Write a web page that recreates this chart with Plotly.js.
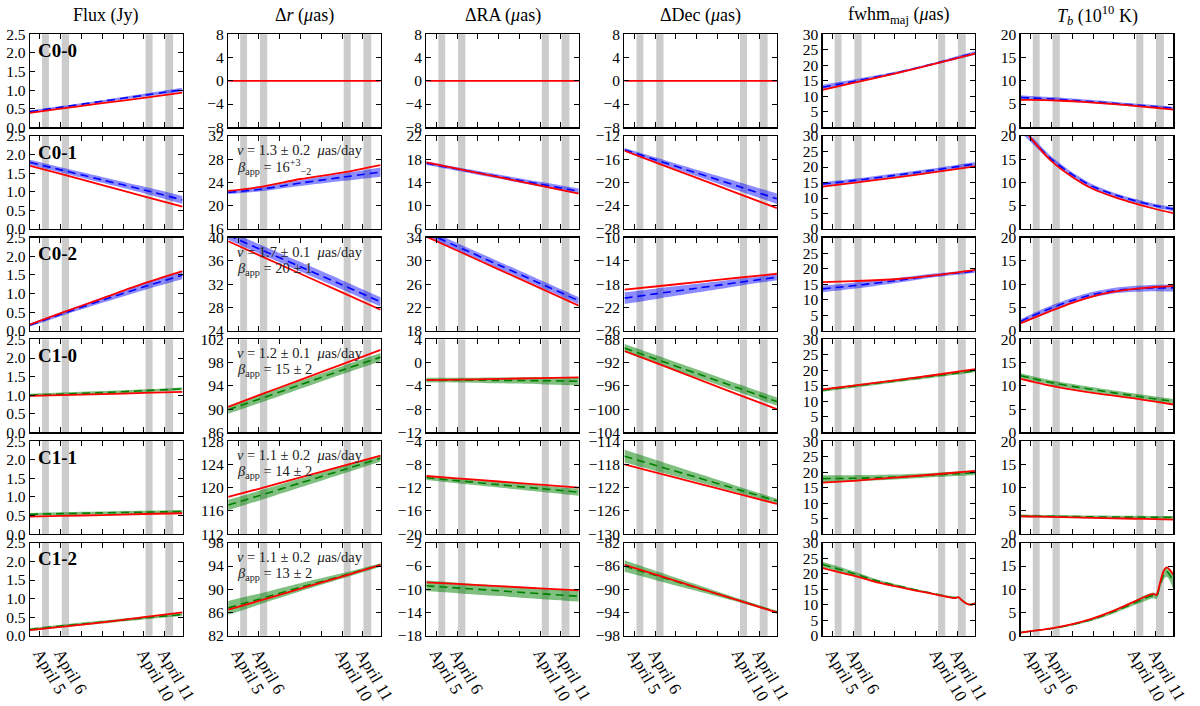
<!DOCTYPE html>
<html>
<head>
<meta charset="utf-8">
<script src="https://cdn.plot.ly/plotly-3.0.1.min.js"></script>
<style>
  body { margin: 0; background: #fff; }
  #chartBox { width: 1200px; height: 706px; }
</style>
</head>
<body>
<div id="chartBox"></div>
<script>
// time grids (day of April 2017)
const days = [4.52, 6, 8, 10, 11.86];
const daysTb = [4.52, 5, 6, 7, 8, 9, 10, 11, 11.86];
const daysFine = [4.52, 5, 6, 7, 8, 9, 10, 10.5, 10.9, 11.05, 11.2, 11.4, 11.55, 11.7, 11.86];

const components = ['C0-0', 'C0-1', 'C0-2', 'C1-0', 'C1-1', 'C1-2'];
const columnTitles = [
    'Flux (Jy)',
    'Δ<i>r</i> (<i>μ</i>as)',
    'ΔRA (<i>μ</i>as)',
    'ΔDec (<i>μ</i>as)',
    'fwhm<sub>maj</sub> (<i>μ</i>as)',
    '<i>T<sub>b</sub></i> (10<sup>10</sup> K)'
];
const obsBands = [[5.1, 5.43], [6.05, 6.4], [10.08, 10.42], [11.03, 11.41]];
const dayTicks = [5, 6, 10, 11];
const dayLabels = ['April 5', 'April 6', 'April 10', 'April 11'];

// speed / apparent speed text (rows C0-1 .. C1-2)
const speedText = [null, '1.3 ± 0.2', '1.7 ± 0.1', '1.2 ± 0.1', '1.1 ± 0.2', '1.1 ± 0.2'];
const betaText = [null, '16<sup>+3</sup><sub>−2</sub>', '20 ± 1', '15 ± 2', '14 ± 2', '13 ± 2'];

// Flux (Jy)
const fluxTruth = [
    [0.39, 0.50, 0.65, 0.79, 0.93],
    [1.70, 1.48, 1.18, 0.88, 0.60],
    [0.17, 0.47, 0.87, 1.27, 1.60],
    [0.98, 1.00, 1.03, 1.06, 1.09],
    [0.47, 0.49, 0.51, 0.54, 0.56],
    [0.15, 0.24, 0.36, 0.50, 0.63]
];
const fluxMean = [
    [0.42, 0.54, 0.70, 0.86, 1.01],
    [1.79, 1.59, 1.32, 1.05, 0.78],
    [0.15, 0.44, 0.82, 1.18, 1.49],
    [1.00, 1.03, 1.07, 1.12, 1.17],
    [0.53, 0.55, 0.57, 0.59, 0.61],
    [0.17, 0.26, 0.37, 0.48, 0.57]
];
const fluxSigma = [
    [0.03, 0.03, 0.03, 0.04, 0.05],
    [0.07, 0.07, 0.08, 0.09, 0.11],
    [0.04, 0.05, 0.07, 0.09, 0.11],
    [0.04, 0.04, 0.04, 0.04, 0.04],
    [0.04, 0.04, 0.04, 0.04, 0.04],
    [0.04, 0.04, 0.04, 0.04, 0.04]
];

// Delta r (uas)
const drTruth = [
    [0, 0, 0, 0, 0],
    [22.55, 23.2, 24.6, 25.7, 27.0],
    [39.4, 37.0, 33.8, 30.6, 27.6],
    [90.4, 92.4, 95.05, 97.7, 100.2],
    [118.4, 119.8, 121.75, 123.7, 125.5],
    [86.5, 88.0, 90.1, 92.2, 94.2]
];
const drMean = [
    null,
    [22.3, 22.8, 23.9, 24.9, 25.8],
    [40.45, 38.1, 35.0, 31.9, 28.95],
    [89.9, 91.7, 94.2, 96.7, 98.95],
    [117.0, 118.6, 120.8, 123.0, 125.05],
    [86.8, 88.3, 90.35, 92.3, 94.2]
];
const drSigma = [
    null,
    [0.3, 0.35, 0.5, 0.65, 0.8],
    [0.8, 0.8, 0.8, 0.8, 0.8],
    [0.7, 0.7, 0.7, 0.7, 0.7],
    [0.9, 0.85, 0.75, 0.65, 0.55],
    [1.2, 0.95, 0.7, 0.45, 0.3]
];

// Delta RA (uas)
const draTruth = [
    [0, 0, 0, 0, 0],
    [17.45, 16.37, 14.91, 13.45, 12.1],
    [34.2, 31.8, 28.56, 25.32, 22.3],
    [-3.0, -2.93, -2.8, -2.65, -2.55],
    [-10.0, -10.4, -10.95, -11.5, -12.0],
    [-8.8, -9.08, -9.46, -9.84, -10.2]
];
const draMean = [
    null,
    [17.3, 16.33, 15.02, 13.71, 12.5],
    [34.86, 32.5, 29.32, 26.13, 23.17],
    [-3.0, -3.0, -3.05, -3.1, -3.2],
    [-10.3, -10.8, -11.49, -12.17, -12.8],
    [-9.4, -9.76, -10.25, -10.75, -11.2]
];
const draSigma = [
    null,
    [0.3, 0.3, 0.35, 0.4, 0.45],
    [0.6, 0.6, 0.6, 0.6, 0.6],
    [0.4, 0.4, 0.5, 0.6, 0.7],
    [0.4, 0.45, 0.5, 0.55, 0.6],
    [0.9, 0.9, 0.9, 0.9, 0.9]
];

// Delta Dec (uas)
const ddecTruth = [
    [0, 0, 0, 0, 0],
    [-14.54, -16.53, -19.21, -21.9, -24.4],
    [-18.95, -18.4, -17.64, -16.89, -16.2],
    [-90.0, -92.0, -94.74, -97.5, -100.0],
    [-118.0, -119.37, -121.22, -123.07, -124.8],
    [-85.8, -87.45, -89.69, -91.92, -94.0]
];
const ddecMean = [
    null,
    [-14.37, -16.07, -18.37, -20.66, -22.8],
    [-20.4, -19.67, -18.69, -17.7, -16.8],
    [-89.5, -91.35, -93.86, -96.36, -98.7],
    [-116.6, -118.15, -120.25, -122.35, -124.3],
    [-86.0, -87.6, -89.74, -91.9, -93.9]
];
const ddecSigma = [
    null,
    [0.3, 0.4, 0.55, 0.75, 0.9],
    [1.0, 0.9, 0.75, 0.6, 0.5],
    [0.7, 0.7, 0.7, 0.7, 0.7],
    [1.1, 0.95, 0.75, 0.55, 0.4],
    [1.0, 0.8, 0.55, 0.3, 0.2]
];

// fwhm_maj (uas); last row on the fine grid
const fwhmTruth = [
    [12.1, 14.3, 17.3, 20.6, 23.8],
    [13.7, 14.9, 16.6, 18.4, 20.2],
    [15.7, 16.0, 16.6, 17.9, 19.6],
    [13.9, 15.1, 16.8, 18.6, 20.4],
    [16.6, 17.2, 18.2, 19.3, 20.4],
    [21.9, 21.0, 19.4, 17.5, 16.0, 14.6, 13.3, 12.6, 12.2, 12.5, 11.6, 10.6, 10.1, 10.1, 10.5]
];
const fwhmMean = [
    [12.9, 14.8, 17.5, 20.7, 24.0],
    [14.5, 15.6, 17.3, 19.1, 21.0],
    [13.5, 14.5, 16.1, 17.9, 19.2],
    [13.6, 14.9, 16.6, 18.3, 19.9],
    [17.9, 18.0, 18.4, 19.1, 19.8],
    [23.0, 22.1, 20.1, 18.0, 16.3, 14.8, 13.4, 12.7, 12.3, 12.4, 11.6, 10.6, 10.1, 10.1, 10.4]
];
const fwhmSigma = [
    [0.8, 0.6, 0.4, 0.4, 0.6],
    [0.6, 0.6, 0.6, 0.6, 0.6],
    [1.1, 1.0, 0.8, 0.6, 0.5],
    [0.5, 0.5, 0.5, 0.5, 0.5],
    [1.1, 1.0, 0.8, 0.7, 0.7],
    [0.9, 0.8, 0.7, 0.5, 0.4, 0.3, 0.3, 0.3, 0.3, 0.3, 0.3, 0.3, 0.3, 0.3, 0.4]
];

// Tb (1e10 K); rows on daysTb, last row on the fine grid
const tbTruth = [
    [5.9, 5.88, 5.8, 5.6, 5.3, 5.0, 4.6, 4.2, 3.8],
    [22.5, 19.6, 14.6, 11.2, 8.6, 6.9, 5.5, 4.3, 3.4],
    [1.6, 2.5, 4.3, 6.0, 7.4, 8.4, 9.0, 9.4, 9.6],
    [11.5, 11.0, 10.0, 9.2, 8.5, 7.9, 7.3, 6.6, 6.0],
    [3.8, 3.78, 3.7, 3.6, 3.5, 3.4, 3.3, 3.2, 3.1],
    [0.7, 1.0, 1.6, 2.5, 3.75, 5.4, 7.4, 8.4, 9.0, 8.8, 11.0, 14.0, 14.7, 14.2, 13.1]
];
const tbMean = [
    [6.4, 6.3, 6.1, 5.8, 5.5, 5.15, 4.8, 4.45, 4.1],
    [21.5, 19.4, 15.0, 11.7, 9.1, 7.4, 6.1, 5.0, 4.3],
    [2.0, 3.0, 4.9, 6.5, 7.8, 8.6, 9.0, 9.2, 9.2],
    [12.2, 11.7, 10.7, 9.9, 9.2, 8.5, 7.85, 7.2, 6.7],
    [3.9, 3.88, 3.82, 3.76, 3.7, 3.67, 3.64, 3.6, 3.6],
    [0.7, 1.0, 1.55, 2.4, 3.6, 5.2, 7.1, 8.1, 8.7, 8.5, 10.5, 13.2, 13.8, 13.0, 11.5]
];
const tbSigma = [
    [0.5, 0.45, 0.4, 0.38, 0.35, 0.33, 0.3, 0.3, 0.3],
    [0.8, 0.7, 0.6, 0.5, 0.45, 0.4, 0.4, 0.4, 0.5],
    [0.5, 0.5, 0.55, 0.6, 0.6, 0.6, 0.65, 0.7, 0.75],
    [0.5, 0.5, 0.5, 0.5, 0.5, 0.5, 0.5, 0.5, 0.5],
    [0.3, 0.3, 0.3, 0.3, 0.3, 0.3, 0.3, 0.3, 0.3],
    [0.1, 0.1, 0.15, 0.2, 0.3, 0.4, 0.5, 0.6, 0.6, 0.6, 0.8, 1.0, 1.1, 1.2, 1.5]
];

// y ranges per column, per row
const drRanges = [[-8, 8], [16, 32], [24, 40], [86, 102], [112, 128], [82, 98]];
const draRanges = [[-8, 8], [6, 22], [18, 34], [-12, 4], [-20, -4], [-18, -2]];
const ddecRanges = [[-8, 8], [-28, -12], [-26, -10], [-104, -88], [-130, -114], [-98, -82]];

const columns = [
    { truth: fluxTruth, mean: fluxMean, sigma: fluxSigma, range: () => [0, 2.5], dtick: 0.5, fmt: '.1f' },
    { truth: drTruth, mean: drMean, sigma: drSigma, range: r => drRanges[r], dtick: 4 },
    { truth: draTruth, mean: draMean, sigma: draSigma, range: r => draRanges[r], dtick: 4 },
    { truth: ddecTruth, mean: ddecMean, sigma: ddecSigma, range: r => ddecRanges[r], dtick: 4 },
    { truth: fwhmTruth, mean: fwhmMean, sigma: fwhmSigma, range: () => [0, 30], dtick: 5 },
    { truth: tbTruth, mean: tbMean, sigma: tbSigma, range: () => [0, 20], dtick: 5 }
];

function gridFor(arr) {
    if (arr.length === days.length) return days;
    if (arr.length === daysTb.length) return daysTb;
    return daysFine;
}

const W = 1200, H = 706;
const FONT = 'Liberation Serif, serif';
const colW = 152.5, rowH = 93;
const colLeft = c => 30 + 198.15 * c;
const rowTop = r => 34.3 + 101.7 * r;

const data = [];
const shapes = [];
const annotations = [];
const layout = {
    width: W, height: H,
    margin: { l: 0, r: 0, t: 0, b: 0 },
    showlegend: false,
    paper_bgcolor: '#fff',
    plot_bgcolor: '#fff',
    font: { family: FONT, size: 15, color: '#000' },
    shapes: shapes,
    annotations: annotations
};

for (let r = 0; r < 6; r++) {
    const isC0 = r < 3;
    const lineColor = isC0 ? '#0000ff' : '#008000';
    const fillColor = isC0 ? 'rgba(0,0,255,0.45)' : 'rgba(0,128,0,0.5)';
    for (let c = 0; c < 6; c++) {
        const k = r * 6 + c + 1;
        const xa = k === 1 ? 'x' : 'x' + k;
        const ya = k === 1 ? 'y' : 'y' + k;
        const col = columns[c];
        const left = colLeft(c), top = rowTop(r);

        layout['xaxis' + (k === 1 ? '' : k)] = {
            domain: [left / W, (left + colW) / W],
            anchor: ya,
            range: [4.52, 11.86],
            tickmode: 'array',
            tickvals: dayTicks,
            ticktext: dayLabels,
            showticklabels: r === 5,
            tickangle: 60,
            tickfont: { family: FONT, size: 17 },
            ticks: 'inside', ticklen: 5, tickwidth: 1, tickcolor: '#000',
            minor: { ticks: 'inside', tick0: 5, dtick: 1, ticklen: 5, tickwidth: 1, tickcolor: '#000', showgrid: false },
            showline: true, linecolor: '#000', linewidth: 1.3, mirror: 'ticks',
            showgrid: false, zeroline: false, fixedrange: true
        };
        const yr = col.range(r);
        const pad = (yr[1] - yr[0]) * 1e-4;
        layout['yaxis' + (k === 1 ? '' : k)] = {
            domain: [1 - (top + rowH) / H, 1 - top / H],
            anchor: xa,
            range: [yr[0] - pad, yr[1] + pad],
            tick0: yr[0], dtick: col.dtick,
            tickformat: col.fmt || '',
            tickfont: { family: FONT, size: 15.5 },
            ticks: 'inside', ticklen: 5, tickwidth: 1, tickcolor: '#000',
            showline: true, linecolor: '#000', linewidth: 1.3, mirror: 'ticks',
            showgrid: false, zeroline: false, fixedrange: true
        };

        // observing windows
        obsBands.forEach(b => {
            shapes.push({
                type: 'rect', layer: 'below',
                xref: xa, yref: ya + ' domain',
                x0: b[0], x1: b[1], y0: 0, y1: 1,
                fillcolor: '#cccccc', line: { width: 0 }
            });
        });

        const truth = col.truth[r];
        const mean = col.mean[r];
        const sigma = col.sigma[r];
        const xs = gridFor(truth);

        if (mean) {
            const lo = mean.map((m, i) => m - sigma[i]);
            const hi = mean.map((m, i) => m + sigma[i]);
            data.push({
                x: xs, y: lo, xaxis: xa, yaxis: ya, type: 'scatter', mode: 'lines',
                line: { width: 0, shape: 'spline', smoothing: 0.8 }, hoverinfo: 'skip'
            });
            data.push({
                x: xs, y: hi, xaxis: xa, yaxis: ya, type: 'scatter', mode: 'lines',
                fill: 'tonexty', fillcolor: fillColor,
                line: { width: 0, shape: 'spline', smoothing: 0.8 }, hoverinfo: 'skip'
            });
            data.push({
                x: xs, y: mean, xaxis: xa, yaxis: ya, type: 'scatter', mode: 'lines',
                line: { color: lineColor, width: 1.6, dash: '8px,5px', shape: 'spline', smoothing: 0.8 }
            });
        }
        data.push({
            x: xs, y: truth, xaxis: xa, yaxis: ya, type: 'scatter', mode: 'lines',
            line: { color: '#ff0000', width: 1.8, shape: 'spline', smoothing: 0.8 }
        });

        if (c === 1 && speedText[r]) {
            annotations.push({
                xref: 'paper', yref: 'paper', x: (left + 7) / W, y: 1 - (top + 14) / H,
                xanchor: 'left', yanchor: 'middle', showarrow: false,
                text: '<i>v</i> = ' + speedText[r] + '  <i>μ</i>as/day',
                font: { family: FONT, size: 14.5, color: '#222' }
            });
            annotations.push({
                xref: 'paper', yref: 'paper', x: (left + 7) / W, y: 1 - (top + 31) / H,
                xanchor: 'left', yanchor: 'middle', showarrow: false,
                text: '<i>β</i><sub>app</sub> = ' + betaText[r],
                font: { family: FONT, size: 14.5, color: '#222' }
            });
        }
    }
    // component label
    annotations.push({
        xref: 'paper', yref: 'paper', x: 36 / W, y: 1 - (rowTop(r) + 16) / H,
        xanchor: 'left', yanchor: 'middle', showarrow: false,
        text: '<b>' + components[r] + '</b>',
        font: { family: FONT, size: 19, color: '#000' }
    });
}

columnTitles.forEach((t, c) => {
    annotations.push({
        xref: 'paper', yref: 'paper', x: (colLeft(c) + colW / 2) / W, y: 1 - 16 / H,
        xanchor: 'center', yanchor: 'middle', showarrow: false,
        text: t, font: { family: FONT, size: 18, color: '#000' }
    });
});

Plotly.newPlot('chartBox', data, layout, { staticPlot: true });
</script>
</body>
</html>
